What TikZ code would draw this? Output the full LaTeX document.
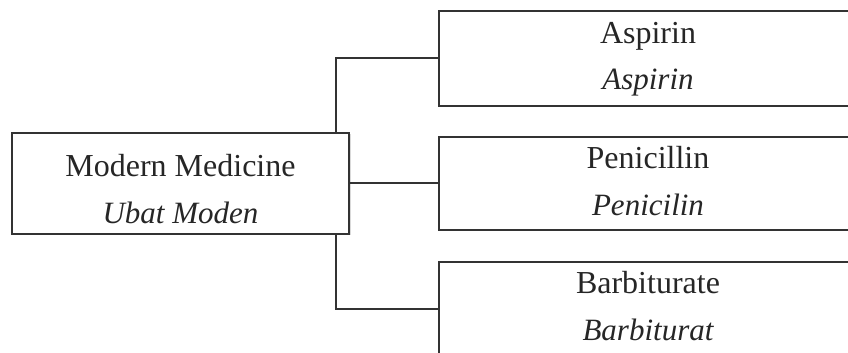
\documentclass[tikz,border=0pt]{standalone}
\usepackage{fontspec}
\setmainfont{Liberation Serif}
\usetikzlibrary{shadows}
\begin{document}
\begin{tikzpicture}[x=1pt,y=1pt,
        box/.style={draw=black!80, line width=2pt, fill=white, inner sep=0pt,
            drop shadow={shadow xshift=1.5pt, shadow yshift=-1.5pt, opacity=0.3}},
        en/.style={anchor=base, inner sep=0pt, font=\fontsize{32}{38}\selectfont, text=black!85},
        ms/.style={anchor=base, inner sep=0pt, font=\fontsize{31}{36}\selectfont\itshape, text=black!85},
        link/.style={draw=black!80, line width=2pt}]
        \useasboundingbox (0,0) rectangle (848,353);
        \clip (0,0) rectangle (848,353);
        \node[box, minimum width=337pt, minimum height=101pt] (M) at (180.5,169.5) {};
        \node[box, minimum width=418pt, minimum height=95pt] (A) at (648,294.5) {};
        \node[box, minimum width=418pt, minimum height=93pt] (P) at (648,169.5) {};
        \node[box, minimum width=418pt, minimum height=95pt] (B) at (648,43.5) {};
        \node[en] (Men) at ([yshift=-45pt]M.north) {Modern Medicine};
        \node[ms] (Mms) at ([yshift=-47pt]Men.base) {Ubat Moden};
        \node[en] (Aen) at ([yshift=-34pt]A.north) {Aspirin};
        \node[ms] (Ams) at ([yshift=-46pt]Aen.base) {Aspirin};
        \node[en] (Pen) at ([yshift=-33pt]P.north) {Penicillin};
        \node[ms] (Pms) at ([yshift=-47pt]Pen.base) {Penicilin};
        \node[en] (Ben) at ([yshift=-33pt]B.north) {Barbiturate};
        \node[ms] (Bms) at ([yshift=-47pt]Ben.base) {Barbiturat};
        \coordinate (T) at (336,0);
        \draw[link] (T |- M.north) |- (A.west);
        \draw[link] (M.east) -- (P.west);
        \draw[link] (T |- M.south) |- (B.west);
    \end{tikzpicture}
\end{document}
